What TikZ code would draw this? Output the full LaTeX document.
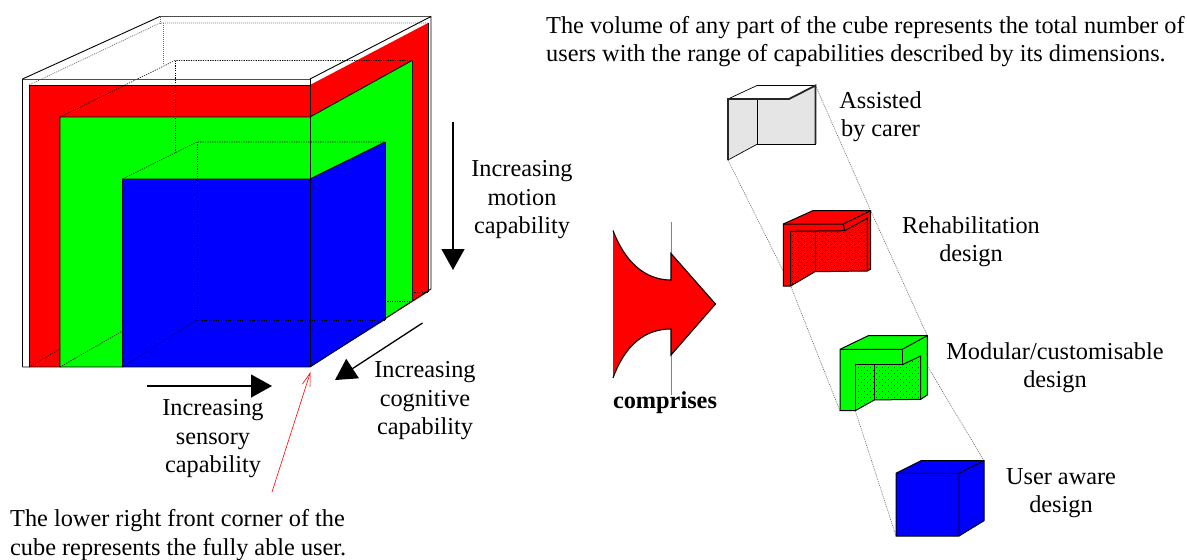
\documentclass[tikz,border=0pt]{standalone}
\usepackage{fontspec}
\setmainfont{Liberation Serif}
\usetikzlibrary{patterns,arrows.meta}
\pgfdeclarepatternformonly{stip}{\pgfqpoint{-1pt}{-1pt}}{\pgfqpoint{7pt}{7pt}}{\pgfqpoint{6pt}{6pt}}{%
  \pgfpathrectangle{\pgfqpoint{0pt}{0pt}}{\pgfqpoint{0.9pt}{0.9pt}}%
  \pgfpathrectangle{\pgfqpoint{3pt}{3pt}}{\pgfqpoint{0.9pt}{0.9pt}}%
  \pgfusepath{fill}}
\definecolor{rd}{RGB}{255,0,0}
\definecolor{gr}{RGB}{0,255,0}
\definecolor{bl}{RGB}{0,0,255}
\tikzset{
  lab/.style={align=center,anchor=base,font=\fontsize{24.3}{28.3}\selectfont,inner sep=0pt},
  labl/.style={align=left,anchor=base west,font=\fontsize{24.3}{28.3}\selectfont,inner sep=0pt},
  edge/.style={draw=black,line width=0.9pt,line join=miter},
  thinedge/.style={draw=black,line width=0.6pt},
  hid/.style={draw=black,line width=0.6pt,dash pattern=on 1.2pt off 1.2pt},
  hidg/.style={draw=black!55,line width=0.7pt,dash pattern=on 1pt off 1pt},
  link/.style={draw=black!60,line width=0.6pt,dash pattern=on 1pt off 1pt},
  bigarrow/.style={draw=black,line width=1.3pt,-{Triangle[length=21pt,width=23pt]}},
  shapeline/.style={draw=black,line width=1pt,line join=miter},
}
\begin{document}
\begin{tikzpicture}[x=1pt,y=-1pt]
\useasboundingbox (0,0) rectangle (1187,560);
% big cube
\fill[rd] (29,85) rectangle (310,367);
\fill[rd] (310,85) -- (428,23) -- (428,292) -- (310,367) -- cycle;
\fill[gr] (60,117) rectangle (310,367);
\fill[gr] (310,117) -- (412,60.5) -- (412,301) -- (310,367) -- cycle;
\fill[bl] (122.5,179) rectangle (310,367);
\fill[bl] (310,179) -- (385,142) -- (385,320) -- (310,367) -- cycle;
% hidden lines
\draw[hidg] (29,85) -- (160,23) -- (428,23);
\draw[hidg] (163,23) -- (163,65);
\draw[hidg] (160,16.5) -- (160,23);
\draw[hid] (60,117) -- (175,60.5) -- (412,60.5);
\draw[hid] (175,60.5) -- (175,152);
\draw[hid] (122.5,179) -- (197,142) -- (385,142);
\draw[hid] (197,142) -- (197,320) -- (385,320);
\draw[hid] (122.5,367) -- (197,320);
\draw[hid] (60,367) -- (122.5,331);
\draw[hid] (385,301) -- (412,301);
\draw[hid] (29,367) -- (60,349);
\draw[hid] (412,292) -- (428,292);
% coloured boundaries
\draw[edge] (29,367) -- (29,85) -- (310,85);
\draw[edge] (60,367) -- (60,117) -- (310,117) -- (412,60.5);
\draw[edge] (122.5,367) -- (122.5,179) -- (310,179) -- (385,142);
\draw[thinedge] (385,142) -- (385,320);
\draw[thinedge] (412,60.5) -- (412,301);
\draw[thinedge] (428,23) -- (428,292);
% outer box
\draw[edge] (22.5,367) -- (22.5,79) -- (160,16.5);
\draw[draw=black!70,line width=0.9pt] (22.5,79) -- (310,79) (160,16.5) -- (431,16.5);
\draw[edge] (310,79) -- (431,16.5) -- (431,289) -- (310,367) -- (22.5,367);
\draw[edge] (310,79) -- (310,367);
% arrows
\coordinate (mA) at (453,122); \coordinate (mB) at (453,270);
\coordinate (sA) at (147,386); \coordinate (sB) at (272,386);
\coordinate (cA) at (422.5,323); \coordinate (cB) at (335,380);
\coordinate (fA) at (272,492); \coordinate (fB) at (310.5,372);
\draw[bigarrow] (mA) -- (mB);
\draw[bigarrow] (sA) -- (sB);
\draw[bigarrow] (cA) -- (cB);
\draw[rd,line width=0.6pt,-{Straight Barb[length=13pt,width=8pt]}] (fA) -- (fB);
% comprises arrow
\draw[rd!70!white,line width=0.6pt] (671,222) -- (671,395);
\fill[rd] (613,230.5) .. controls (625,262) and (645,280) .. (671,280) -- (671,253.5) -- (715.5,304) -- (671,355) -- (671,329) .. controls (645,329) and (625,345) .. (613,378) -- cycle;
\draw[black,line width=1.1pt,line join=miter] (613,230.5) .. controls (625,262) and (645,280) .. (671,280) -- (671,253.5) -- (715.5,304) -- (671,355) -- (671,329) .. controls (645,329) and (625,345) .. (613,378);
% connector points
\coordinate (g1) at (728,160); \coordinate (g2) at (815.5,85.5);
\coordinate (r1) at (790.7,286); \coordinate (r2) at (870.7,210.7);
\coordinate (v1) at (840,411); \coordinate (v2) at (927.3,335.7);
\coordinate (v3) at (855.3,410.7); \coordinate (v4) at (920.7,355);
\coordinate (b1) at (896,536); \coordinate (b2) at (984,460.7);
\draw[link] (g1) -- (r1) -- (v1);
\draw[link] (g2) -- (r2) -- (v2);
\draw[link] (v3) -- (b1);
\draw[link] (v4) -- (b2);
% assisted cube
\fill[black!10] (728,99) -- (757.5,99) -- (789,99) -- (815.5,85.5) -- (815.5,144) -- (757.5,144) -- (728,160) -- cycle;
\fill[white] (728,99) -- (757,85.5) -- (815.5,85.5) -- (789,99) -- cycle;
\draw[draw=black,line width=0.7pt] (728,99) -- (757,85.5) -- (815.5,85.5);
\draw[draw=black,line width=0.7pt] (757.5,99) -- (757.5,144) -- (815.5,144);
\draw[draw=black,line width=0.7pt] (757.5,144) -- (728,160);
\draw[draw=black!85,line width=1.8pt,line join=miter] (728,160) -- (728,99) -- (789,99) -- (815.5,85.5) -- (815.5,144);
% rehabilitation
\fill[rd] (783.3,224) -- (812.7,210.7) -- (870.7,210.7) -- (870.7,269.3) -- (867.3,271) -- (815,271.7) -- (790.7,286) -- (783.3,286) -- cycle;
\fill[pattern=stip,pattern color=black] (790.7,231.3) -- (844.7,230.7) -- (867.3,218.3) -- (867.3,271) -- (815,271.7) -- (790.7,286) -- cycle;
\draw[shapeline] (783.3,224) -- (812.7,210.7) -- (870.7,210.7) -- (870.7,269.3) -- (867.3,271) -- (815,271.7) -- (790.7,286) -- (783.3,286) -- cycle;
\draw[shapeline] (783.3,224) -- (843.3,224) -- (870.7,210.7);
\draw[shapeline] (843.3,224) -- (844.7,230.7) -- (790.7,231.3) -- (790.7,286);
\draw[shapeline] (844.7,230.7) -- (867.3,218.3) -- (867.3,271);
\draw[shapeline] (815,231) -- (815,271.7);
% modular
\fill[gr] (840,349.3) -- (868.3,335.7) -- (927.3,335.7) -- (927.3,395) -- (920.7,399.3) -- (874.3,400) -- (855.3,410.7) -- (840,410.7) -- cycle;
\fill[pattern=stip,pattern color=black!80!green] (855.3,364.7) -- (902.3,364.7) -- (920.7,356) -- (920.7,399.3) -- (874.3,400) -- (855.3,410.7) -- cycle;
\draw[shapeline] (840,349.3) -- (868.3,335.7) -- (927.3,335.7) -- (927.3,395) -- (920.7,399.3) -- (874.3,400) -- (855.3,410.7) -- (840,410.7) -- cycle;
\draw[shapeline] (840,349.3) -- (902.3,349.3) -- (927.3,335.7);
\draw[shapeline] (902.3,349.3) -- (902.3,364.7) -- (855.3,364.7) -- (855.3,410.7);
\draw[shapeline] (902.3,364.7) -- (920.7,356) -- (920.7,399.3);
\draw[shapeline] (874.3,364.7) -- (874.3,400);
% user aware
\fill[bl] (896,473.3) -- (921,460.7) -- (984,460.7) -- (984,520.7) -- (959,536) -- (896,536) -- cycle;
\draw[shapeline] (896,473.3) -- (921,460.7) -- (984,460.7) -- (984,520.7) -- (959,536) -- (896,536) -- cycle;
\draw[shapeline] (896,473.3) -- (959,473.3) -- (984,460.7) (959,473.3) -- (959,536);
% text
\node[labl] (top) at (546,61.7) {The volume of any part of the cube represents the total number of\\users with the range of capabilities described by its dimensions.};
\node[lab] (t1) at (880.5,136.7) {Assisted\\by carer};
\node[lab] (t2) at (971,261.7) {Rehabilitation\\design};
\node[lab] (t3) at (1055,387.5) {Modular/customisable\\design};
\node[lab] (t4) at (1061,512.5) {User aware\\design};
\node[lab] (tm) at (522,233.5) {Increasing\\motion\\capability};
\node[lab] (tc) at (425,434.5) {Increasing\\cognitive\\capability};
\node[lab] (ts) at (213,472.5) {Increasing\\sensory\\capability};
\node[labl] (tb) at (10,555) {The lower right front corner of the\\cube represents the fully able user.};
\node[lab,font=\fontsize{24.3}{28.3}\selectfont\bfseries] (tp) at (665,408.3) {comprises};
\end{tikzpicture}
\end{document}
